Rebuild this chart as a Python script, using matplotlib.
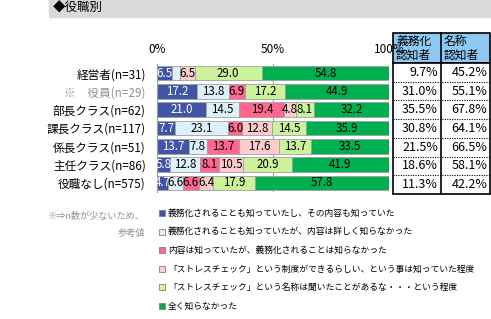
import matplotlib
matplotlib.use("Agg")
import matplotlib.pyplot as plt
from matplotlib.patches import Rectangle
import numpy as np

plt.rcParams['font.family'] = ['Noto Sans CJK JP', 'DejaVu Sans']

# data
categories = ["経営者(n=31)", "※　役員(n=29)", "部長クラス(n=62)", "課長クラス(n=117)",
              "係長クラス(n=51)", "主任クラス(n=86)", "役職なし(n=575)"]
series_names = [
    "義務化されることも知っていたし、その内容も知っていた",
    "義務化されることも知っていたが、内容は詳しく知らなかった",
    "内容は知っていたが、義務化されることは知らなかった",
    "「ストレスチェック」という制度ができるらしい、という事は知っていた程度",
    "「ストレスチェック」という名称は聞いたことがあるな・・・という程度",
    "全く知らなかった",
]
values = [
    [6.5, 17.2, 21.0, 7.7, 13.7, 5.8, 4.7],
    [3.2, 13.8, 14.5, 23.1, 7.8, 12.8, 6.6],
    [0.0, 6.9, 19.4, 6.0, 13.7, 8.1, 6.6],
    [6.5, 0.0, 4.8, 12.8, 17.6, 10.5, 6.4],
    [29.0, 17.2, 8.1, 14.5, 13.7, 20.9, 17.9],
    [54.8, 44.9, 32.2, 35.9, 33.5, 41.9, 57.8],
]
gimu_ninchi = ["9.7%", "31.0%", "35.5%", "30.8%", "21.5%", "18.6%", "11.3%"]
meisho_ninchi = ["45.2%", "55.1%", "67.8%", "64.1%", "66.5%", "58.1%", "42.2%"]
table_headers = ["義務化\n認知者", "名称\n認知者"]
xticks = [0, 50, 100]
xtick_labels = ["0%", "50%", "100%"]

colors = ["#4055A8", "#DDF1FB", "#FF6690", "#FFCCCC", "#CCF29C", "#00B050"]
text_colors = ["white", "black", "black", "black", "black", "black"]

W, H = 491, 319
fig = plt.figure(figsize=(W / 100, H / 100), dpi=100)

# overlay for decorations, pixel coords
ov = fig.add_axes([0, 0, 1, 1])
ov.set_xlim(0, W)
ov.set_ylim(H, 0)
ov.axis("off")

ov.add_patch(Rectangle((49, 0), W - 49, 17, color="#D9D9D9", zorder=0))
ov.text(53, 8.5, "◆役職別", fontsize=9, va="center", ha="left")

# bar axes
left, right, top, bottom = 157, 389, 64, 192
ax = fig.add_axes([left / W, 1 - bottom / H, (right - left) / W, (bottom - top) / H])
y = np.arange(len(categories))
cum = np.zeros(len(categories))
for i, vals in enumerate(values):
    vals = np.array(vals)
    ax.barh(y, vals, left=cum, height=0.8, color=colors[i], edgecolor="#A0A0A0",
            linewidth=0.6, zorder=2)
    for j, v in enumerate(vals):
        if v >= 4:  # narrow segments have no label in the original
            ax.text(cum[j] + v / 2, y[j], f"{v:.1f}", ha="center", va="center",
                    fontsize=8.3, color=text_colors[i], zorder=3)
    cum += vals

ax.set_xlim(0, 100)
ax.set_ylim(len(categories) - 0.5, -0.5)
ax.set_yticks(y)
ax.set_yticklabels(categories, fontsize=8.4)
ax.get_yticklabels()[1].set_color("#909090")
ax.tick_params(axis="y", length=0, pad=8)
ax.xaxis.tick_top()
ax.set_xticks(xticks)
ax.set_xticklabels(xtick_labels, fontsize=8.5)
ax.tick_params(axis="x", length=0, pad=6)
ax.axvline(50, color="#A0A0A0", lw=0.8, zorder=1)
ax.axvline(100, color="#A0A0A0", lw=0.8, zorder=1)
for s in ["top", "right", "bottom"]:
    ax.spines[s].set_visible(False)
ax.spines["left"].set_color("#A0A0A0")
ax.patch.set_alpha(0)

# table on the right
tx0, tx1, tx2 = 393, 441, 490.5
hy0, hy1 = 33, 63
row_h = 18.7
ov.add_patch(Rectangle((tx0, hy0), tx2 - tx0, hy1 - hy0, facecolor="#8DC8F3",
                       edgecolor="black", lw=1.2, zorder=5))
ov.add_patch(Rectangle((tx0, hy1), tx2 - tx0, row_h * len(categories), facecolor="white",
                       edgecolor="black", lw=1.2, zorder=5))
ov.plot([tx1, tx1], [hy0, hy1 + row_h * len(categories)], color="black", lw=1.2, zorder=6)
for k in range(1, len(categories)):
    yy = hy1 + k * row_h
    ov.plot([tx0, tx2], [yy, yy], color="black", lw=0.8, ls=(0, (1, 1.2)), zorder=6)
ov.text(tx0 + 3, (hy0 + hy1) / 2, table_headers[0], fontsize=8.5, va="center", ha="left",
        linespacing=1.05, zorder=7)
ov.text(tx1 + 3, (hy0 + hy1) / 2, table_headers[1], fontsize=8.5, va="center", ha="left",
        linespacing=1.05, zorder=7)
for k in range(len(categories)):
    yc = hy1 + (k + 0.5) * row_h
    ov.text(tx1 - 3, yc, gimu_ninchi[k], fontsize=9, va="center", ha="right", zorder=7)
    ov.text(tx2 - 3, yc, meisho_ninchi[k], fontsize=9, va="center", ha="right", zorder=7)

# legend
ly0, lstep = 213, 18.6
for i, name in enumerate(series_names):
    yy = ly0 + i * lstep
    ov.add_patch(Rectangle((159, yy - 3), 6, 6, facecolor=colors[i], edgecolor="#808080",
                           lw=0.6))
    ov.text(168, yy, name, fontsize=6.3, va="center", ha="left")

ov.text(145, 225, "※⇒n数が少ないため、\n参考値", fontsize=6.6, color="#909090",
        ha="right", va="center", linespacing=2.1)

fig.savefig("out.png", dpi=100)
